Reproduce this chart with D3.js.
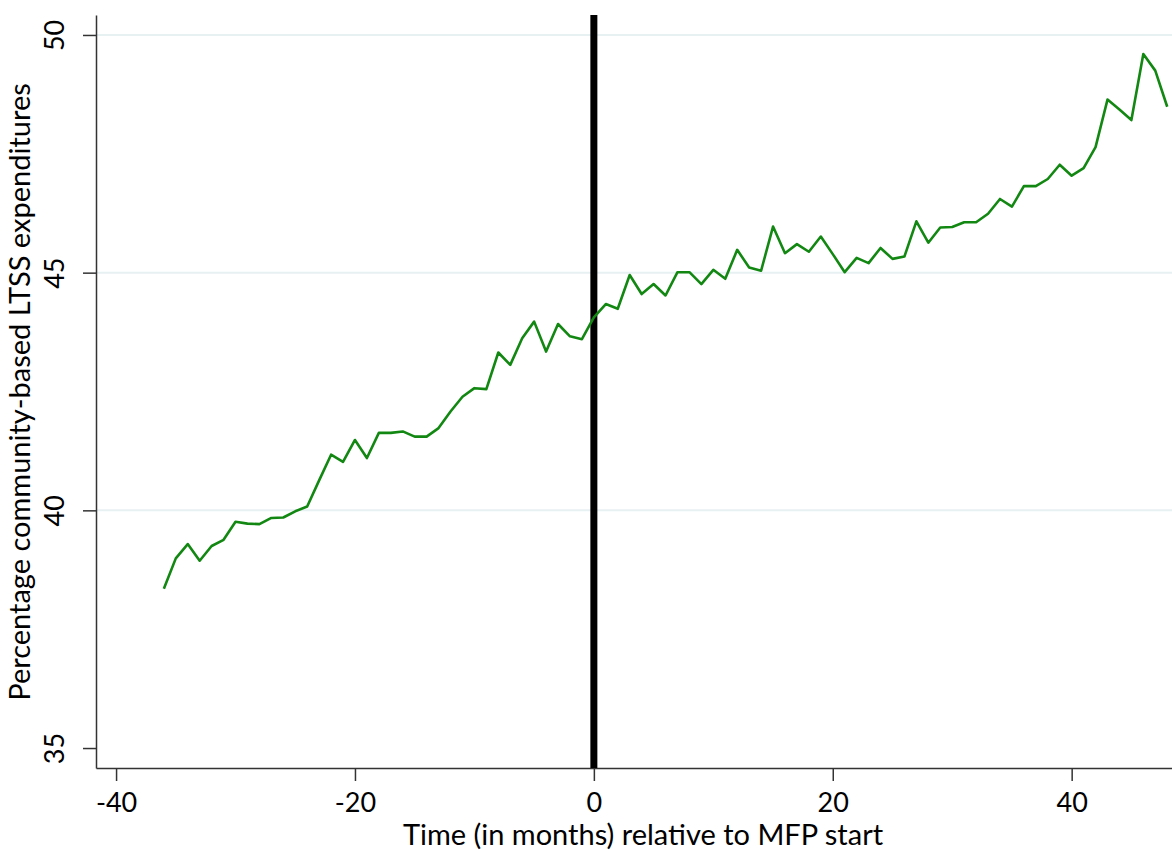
<!DOCTYPE html>
<html>
<head>
<meta charset="utf-8">
<script src="https://cdn.jsdelivr.net/npm/d3@7"></script>
<style>
  body { margin: 0; background: #fff; }
  .axis text { font-family: Lato, "Open Sans", sans-serif; fill: #000; }
</style>
</head>
<body>
<div id="chart"></div>
<script>
// months relative to MFP start
var months = d3.range(-36, 49);
// percentage community-based LTSS expenditures
var pctValues = [
    38.35, 38.99, 39.29, 38.94, 39.25, 39.38, 39.76, 39.72, 39.71, 39.84,
    39.85, 39.98, 40.08, 40.63, 41.17, 41.02, 41.48, 41.10, 41.63, 41.63,
    41.66, 41.55, 41.55, 41.73, 42.08, 42.39, 42.57, 42.55, 43.32, 43.06,
    43.62, 43.97, 43.34, 43.92, 43.66, 43.60, 44.06, 44.34, 44.24, 44.95,
    44.55, 44.76, 44.52, 45.01, 45.01, 44.76, 45.06, 44.87, 45.48, 45.11,
    45.04, 45.97, 45.41, 45.60, 45.44, 45.76, 45.39, 45.01, 45.31, 45.20,
    45.52, 45.29, 45.34, 46.08, 45.63, 45.95, 45.96, 46.06, 46.06, 46.24,
    46.55, 46.39, 46.82, 46.82, 46.97, 47.27, 47.04, 47.20, 47.64, 48.64,
    48.43, 48.21, 49.60, 49.25, 48.49
];
var xTicks = [-40, -20, 0, 20, 40];
var yTicks = [35, 40, 45, 50];
var gridTicks = [40, 45, 50];

var w = 1172, h = 850;
var margin = {left: 96, right: 0, top: 15, bottom: 82};

var svg = d3.select("#chart").append("svg")
    .attr("width", w)
    .attr("height", h);

//scales
var x = d3.scaleLinear()
    .domain([-41.68, 48.4])
    .range([margin.left, w - margin.right]);

var y = d3.scaleLinear()
    .domain([34.58, 50.42])
    .range([h - margin.bottom, margin.top]);

//plain hyphen labels like the original
var fmt = function (d) { return String(d); };

//gridlines
svg.append("g").selectAll("line")
    .data(gridTicks)
    .enter()
    .append("line")
    .attr("x1", margin.left)
    .attr("x2", w - margin.right)
    .attr("y1", function (d) { return y(d); })
    .attr("y2", function (d) { return y(d); })
    .attr("stroke", "#e8f1f2")
    .attr("stroke-width", 2);

//x axis
var xAxis = svg.append("g")
    .attr("class", "axis")
    .attr("transform", "translate(0," + (h - margin.bottom) + ")")
    .call(d3.axisBottom(x).tickValues(xTicks).tickFormat(fmt)
        .tickSize(13).tickSizeOuter(0).tickPadding(12));
xAxis.select(".domain").attr("stroke", "#333").attr("stroke-width", 1.5);
xAxis.selectAll(".tick line").attr("stroke", "#333").attr("stroke-width", 1.5);
xAxis.selectAll("text").style("font-size", "27px");

//y axis
var yAxis = svg.append("g")
    .attr("class", "axis")
    .attr("transform", "translate(" + margin.left + ",0)")
    .call(d3.axisLeft(y).tickValues(yTicks).tickFormat(fmt)
        .tickSize(13).tickSizeOuter(0).tickPadding(0));
yAxis.select(".domain").attr("stroke", "#333").attr("stroke-width", 1.5);
yAxis.selectAll(".tick line").attr("stroke", "#333").attr("stroke-width", 1.5);
yAxis.selectAll("text")
    .style("font-size", "27px")
    .attr("x", 0)
    .attr("dy", 0)
    .attr("text-anchor", "middle")
    .attr("transform", "translate(-32,0) rotate(-90)");

//axis titles
svg.append("text")
    .attr("x", 643)
    .attr("y", 845)
    .attr("text-anchor", "middle")
    .style("font-family", "Lato, sans-serif")
    .style("font-size", "29px")
    .text("Time (in months) relative to MFP start");

svg.append("text")
    .attr("transform", "translate(30,392) rotate(-90)")
    .attr("text-anchor", "middle")
    .style("font-family", "Lato, sans-serif")
    .style("font-size", "29px")
    .text("Percentage community-based LTSS expenditures");

//vertical line at MFP start
svg.append("line")
    .attr("x1", x(0))
    .attr("x2", x(0))
    .attr("y1", margin.top)
    .attr("y2", h - margin.bottom)
    .attr("stroke", "#000")
    .attr("stroke-width", 7);

//data line
var line = d3.line()
    .x(function (d, i) { return x(months[i]); })
    .y(function (d) { return y(d); });

svg.append("path")
    .datum(pctValues)
    .attr("d", line)
    .attr("fill", "none")
    .attr("stroke", "#128812")
    .attr("stroke-width", 2.6)
    .attr("stroke-linejoin", "round");
</script>
</body>
</html>
